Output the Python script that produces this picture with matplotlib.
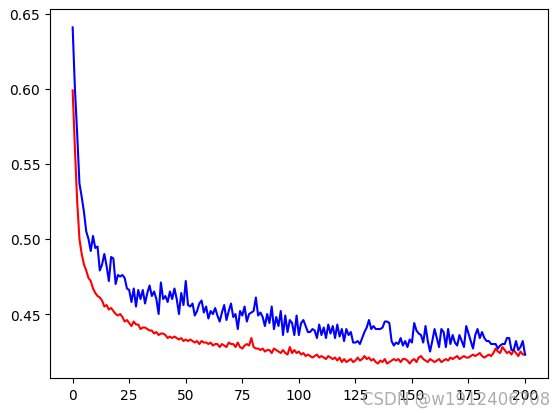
import matplotlib
matplotlib.use("Agg")
import matplotlib.pyplot as plt

# validation loss (blue), 201 epochs
val_loss = [
    0.641, 0.600, 0.570, 0.537, 0.528, 0.518, 0.505, 0.500, 0.492, 0.502,
    0.494, 0.495, 0.479, 0.483, 0.490, 0.482, 0.472, 0.488, 0.487, 0.470,
    0.476, 0.475, 0.476, 0.474, 0.467, 0.466, 0.458, 0.467, 0.455, 0.466,
    0.460, 0.466, 0.457, 0.464, 0.469, 0.462, 0.465, 0.460, 0.450, 0.471,
    0.460, 0.462, 0.458, 0.465, 0.460, 0.467, 0.460, 0.450, 0.464, 0.456,
    0.472, 0.456, 0.455, 0.457, 0.449, 0.452, 0.457, 0.459, 0.451, 0.455,
    0.447, 0.452, 0.450, 0.454, 0.449, 0.445, 0.451, 0.456, 0.446, 0.452,
    0.457, 0.448, 0.450, 0.440, 0.452, 0.449, 0.455, 0.445, 0.450, 0.451,
    0.452, 0.461, 0.449, 0.451, 0.448, 0.442, 0.450, 0.444, 0.455, 0.440,
    0.448, 0.442, 0.452, 0.436, 0.449, 0.438, 0.446, 0.444, 0.436, 0.449,
    0.436, 0.444, 0.446, 0.442, 0.438, 0.438, 0.440, 0.439, 0.434, 0.443,
    0.436, 0.441, 0.434, 0.443, 0.437, 0.442, 0.434, 0.443, 0.435, 0.440,
    0.432, 0.440, 0.436, 0.438, 0.431, 0.431, 0.432, 0.430, 0.434, 0.438,
    0.441, 0.446, 0.440, 0.442, 0.440, 0.440, 0.440, 0.441, 0.445, 0.445,
    0.444, 0.432, 0.429, 0.431, 0.430, 0.434, 0.429, 0.432, 0.428, 0.433,
    0.431, 0.444, 0.439, 0.437, 0.436, 0.431, 0.442, 0.432, 0.425, 0.432,
    0.440, 0.434, 0.428, 0.440, 0.438, 0.428, 0.440, 0.430, 0.436, 0.431,
    0.429, 0.436, 0.432, 0.428, 0.442, 0.437, 0.432, 0.427, 0.436, 0.440,
    0.434, 0.438, 0.434, 0.432, 0.432, 0.430, 0.430, 0.430, 0.427, 0.429,
    0.430, 0.430, 0.434, 0.434, 0.426, 0.426, 0.432, 0.426, 0.428, 0.432,
    0.423,
]

# training loss (red)
train_loss = [
    0.599, 0.560, 0.525, 0.500, 0.490, 0.483, 0.479, 0.474, 0.472, 0.467,
    0.464, 0.462, 0.461, 0.459, 0.455, 0.456, 0.453, 0.454, 0.452, 0.450,
    0.449, 0.450, 0.448, 0.445, 0.446, 0.444, 0.442, 0.445, 0.443, 0.443,
    0.440, 0.441, 0.441, 0.440, 0.439, 0.439, 0.437, 0.438, 0.436, 0.437,
    0.437, 0.436, 0.434, 0.435, 0.434, 0.435, 0.434, 0.433, 0.434, 0.432,
    0.433, 0.432, 0.433, 0.432, 0.431, 0.432, 0.430, 0.432, 0.431, 0.431,
    0.430, 0.431, 0.429, 0.430, 0.430, 0.428, 0.430, 0.429, 0.428, 0.431,
    0.430, 0.430, 0.428, 0.431, 0.428, 0.427, 0.429, 0.430, 0.429, 0.434,
    0.428, 0.427, 0.427, 0.426, 0.427, 0.425, 0.426, 0.426, 0.424, 0.427,
    0.426, 0.425, 0.424, 0.426, 0.424, 0.423, 0.428, 0.424, 0.426, 0.424,
    0.425, 0.423, 0.424, 0.422, 0.423, 0.422, 0.421, 0.422, 0.423, 0.421,
    0.422, 0.421, 0.420, 0.422, 0.421, 0.420, 0.421, 0.419, 0.421, 0.418,
    0.420, 0.418, 0.419, 0.420, 0.418, 0.419, 0.421, 0.419, 0.420, 0.422,
    0.420, 0.421, 0.419, 0.420, 0.418, 0.417, 0.419, 0.418, 0.420, 0.417,
    0.418, 0.419, 0.420, 0.419, 0.420, 0.418, 0.420, 0.420, 0.419, 0.417,
    0.419, 0.420, 0.418, 0.421, 0.422, 0.420, 0.419, 0.418, 0.420, 0.419,
    0.418, 0.419, 0.420, 0.418, 0.419, 0.420, 0.419, 0.421, 0.420, 0.421,
    0.422, 0.420, 0.421, 0.422, 0.421, 0.421, 0.422, 0.423, 0.422, 0.423,
    0.424, 0.422, 0.421, 0.422, 0.423, 0.422, 0.424, 0.427, 0.425, 0.424,
    0.428, 0.426, 0.424, 0.425, 0.423, 0.426, 0.424, 0.422, 0.425, 0.423,
    0.423,
]

epochs = list(range(len(val_loss)))

fig, ax = plt.subplots(figsize=(5.56, 4.14), dpi=100)
ax.plot(epochs, train_loss, color="red")
ax.plot(epochs, val_loss, color="blue")
ax.set_ylim(0.4075, 0.653)
ax.set_xticks([0, 25, 50, 75, 100, 125, 150, 175, 200])
ax.set_yticks([0.45, 0.50, 0.55, 0.60, 0.65])
fig.subplots_adjust(left=0.09, right=0.985, top=0.975, bottom=0.085)
# watermark sits over the tick labels, as in the source image
fig.text(0.99, 0.012, "CSDN @w1912406708", ha="right", va="bottom",
         fontsize=12, color="#999999", alpha=0.8)
plt.savefig("out.png", dpi=100)
plt.close()
